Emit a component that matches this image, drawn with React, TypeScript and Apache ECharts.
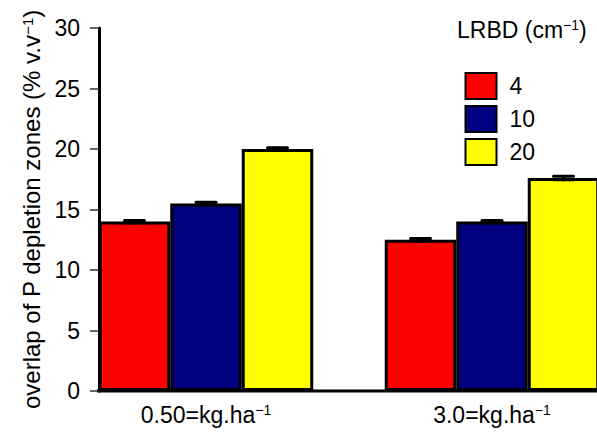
import React, { useEffect, useRef } from "react";
import * as echarts from "echarts";

const categories = ["0.50=kg.ha", "3.0=kg.ha"];
const seriesNames = ["4", "10", "20"];
const colors = ["#FF0000", "#000080", "#FFFF00"];
const values4 = [14.0, 12.5];
const values10 = [15.5, 14.0];
const values20 = [20.0, 17.6];
const err4 = [0.1, 0.1];
const err10 = [0.1, 0.1];
const err20 = [0.1, 0.15];
const yTicks = { min: 0, max: 30, interval: 5 };

const FONT = "Liberation Sans, Arial, Helvetica, sans-serif";
const FS = 23;
const supStyle = { fontSize: 14, verticalAlign: "top", fontFamily: FONT, color: "#000", padding: [0, 0, 9, 0] };

export default function App() {
  const ref = useRef<HTMLDivElement>(null);
  useEffect(() => {
    if (!ref.current) return;
    const chart = echarts.init(ref.current, null, { renderer: "svg" });
    const allVals = [values4, values10, values20];
    const allErr = [err4, err10, err20];
    const errData: number[][] = [];
    allVals.forEach((vals, s) => {
      vals.forEach((v, i) => errData.push([i, v, allErr[s][i], s]));
    });
    const barSeries = allVals.map((vals, s) => ({
      type: "bar",
      name: seriesNames[s],
      data: vals,
      barGap: "0%",
      barCategoryGap: "25%",
      itemStyle: { color: colors[s], borderColor: "#000", borderWidth: 3 },
    }));
    chart.setOption({
      animation: false,
      textStyle: { fontFamily: FONT },
      grid: { left: 63, width: 572, top: 28, bottom: 41, outerBoundsMode: "none", containLabel: false },
      title: {
        text: "LRBD (cm{sup|\u22121})",
        left: 457,
        top: 18,
        padding: 0,
        textStyle: {
          fontSize: FS,
          fontWeight: "normal",
          color: "#000",
          fontFamily: FONT,
          rich: { sup: supStyle },
        },
      },
      legend: {
        orient: "vertical",
        left: 464.5,
        top: 72,
        padding: 0,
        itemWidth: 31,
        itemHeight: 26,
        itemGap: 5,
        icon: "rect",
        data: seriesNames,
        textStyle: { fontSize: FS, color: "#000", fontFamily: FONT, padding: [0, 0, 0, 8], lineHeight: 26 },
      },
      xAxis: {
        type: "category",
        data: categories,
        axisLine: { show: false },
        axisTick: { show: false },
        axisLabel: {
          margin: 12,
          color: "#000",
          fontSize: FS,
          fontFamily: FONT,
          formatter: (v: string) => v + "{sup|\u22121}",
          rich: { sup: supStyle },
        },
      },
      yAxis: {
        type: "value",
        min: yTicks.min,
        max: yTicks.max,
        interval: yTicks.interval,
        offset: -36,
        splitLine: { show: false },
        axisLine: { show: true, lineStyle: { color: "#000", width: 3 } },
        axisTick: { show: true, inside: false, length: 9, lineStyle: { color: "#333", width: 1.5 } },
        axisLabel: { color: "#000", fontSize: FS, margin: 19, fontFamily: FONT },
        name: "overlap of P depletion zones (% v.v{sup|\u22121})",
        nameLocation: "middle",
        nameRotate: 90,
        nameGap: 53,
        nameTextStyle: {
          color: "#000",
          fontSize: 24,
          fontFamily: FONT,
          rich: { sup: { ...supStyle, fontSize: 15 } },
        },
      },
      graphic: [
        {
          type: "line",
          shape: { x1: 97, y1: 391, x2: 600, y2: 391 },
          style: { stroke: "#000", lineWidth: 3 },
          z: 100,
        },
      ],
      series: [
        ...barSeries,
        {
          type: "custom",
          name: "err",
          data: errData,
          z: 10,
          renderItem: (params: any, api: any) => {
            const ci = api.value(0);
            const v = api.value(1);
            const e = api.value(2);
            const s = api.value(3);
            const bw = api.size([1, 0])[0];
            const w = (bw * 0.75) / 3;
            const c = api.coord([ci, v]);
            const x = c[0] + (s - 1) * w;
            const yt = api.coord([ci, v + e])[1];
            const yb = api.coord([ci, v - e])[1];
            const hw = 10;
            const st = { stroke: "#000", lineWidth: 3, lineCap: "round" };
            return {
              type: "group",
              children: [
                { type: "line", shape: { x1: x, y1: yt, x2: x, y2: yb }, style: st },
                { type: "line", shape: { x1: x - hw, y1: yt, x2: x + hw, y2: yt }, style: st },
                { type: "line", shape: { x1: x - hw, y1: yb, x2: x + hw, y2: yb }, style: st },
              ],
            };
          },
        },
      ],
    });
    return () => chart.dispose();
  }, []);
  return <div ref={ref} style={{ width: 597, height: 432, position: "absolute", left: 0, top: 0 }} />;
}
